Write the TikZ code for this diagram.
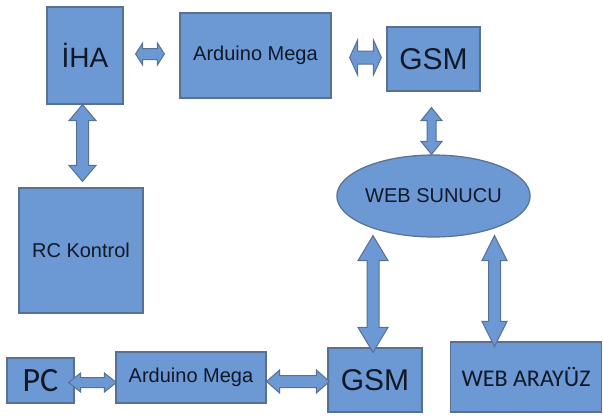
\documentclass[tikz,border=0pt]{standalone}
\usepackage{fontspec}
\setmainfont{Liberation Sans}
\newfontfamily\calib{Carlito}
\usetikzlibrary{calc,shapes.geometric}
\definecolor{boxfill}{RGB}{108,153,212}
\definecolor{boxline}{RGB}{88,112,145}
\definecolor{txt}{RGB}{16,24,40}
\newcommand\fs[1]{\fontsize{#1}{#1}\selectfont}
% horizontal double block arrow: from, to, half shaft, half head, head length
\newcommand\hbarrow[5]{%
  \draw[barrow] let \p1=(#1), \p2=(#2) in
  (\x1,\y2) -- ({\x1+#5},{\y2+#4}) -- ({\x1+#5},{\y2+#3}) -- ({\x2-#5},{\y2+#3})
  -- ({\x2-#5},{\y2+#4}) -- (\x2,\y2) -- ({\x2-#5},{\y2-#4}) -- ({\x2-#5},{\y2-#3})
  -- ({\x1+#5},{\y2-#3}) -- ({\x1+#5},{\y2-#4}) -- cycle;}
% vertical double block arrow: top, bottom, half shaft, half head, head length
\newcommand\vbarrow[5]{%
  \draw[barrow] let \p1=(#1), \p2=(#2) in
  (\x2,\y1) -- ({\x2+#4},{\y1-#5}) -- ({\x2+#3},{\y1-#5}) -- ({\x2+#3},{\y2+#5})
  -- ({\x2+#4},{\y2+#5}) -- (\x2,\y2) -- ({\x2-#4},{\y2+#5}) -- ({\x2-#3},{\y2+#5})
  -- ({\x2-#3},{\y1-#5}) -- ({\x2-#4},{\y1-#5}) -- cycle;}
\begin{document}
\begin{tikzpicture}[x=1pt,y=-1pt,
  box/.style={draw=boxline, fill=boxfill, line width=1.2pt, text=txt, inner sep=0pt, rectangle},
  oval/.style={draw=boxline, fill=boxfill, line width=1.2pt, text=txt, inner sep=0pt, ellipse},
  barrow/.style={draw=boxline, fill=boxfill, line width=1pt, line join=miter}]
\useasboundingbox (0,0) rectangle (603,416);
\node[box, minimum width=76pt, minimum height=97pt] (iha) at (85,55.5) {\fs{28}İHA};
\node[box, minimum width=151pt, minimum height=85pt] (ard1) at (255.5,55.5) {\fs{20}Arduino Mega};
\node[box, minimum width=93pt, minimum height=64pt] (gsm1) at (433.5,59) {\fs{30}GSM};
\node[oval, minimum width=161pt, minimum height=82pt] (sunucu) at (433.5,196) {\fs{20}WEB SUNUCU};
\node[box, minimum width=124pt, minimum height=125pt] (rc) at (81,250.5) {\fs{20}RC Kontrol};
\node[box, minimum width=67pt, minimum height=45pt] (pc) at (40.5,380.5) {\calib\fs{34}PC};
\node[box, minimum width=150pt, minimum height=51pt] (ard2) at (191,377.5) {\raisebox{-1.5pt}{\fs{20}Arduino Mega}};
\node[box, minimum width=94pt, minimum height=64pt] (gsm2) at (375,380) {\fs{30}GSM};
\node[box, minimum width=151pt, minimum height=70pt] (web) at (526,377) {\raisebox{-3.5pt}{\calib\fs{24}WEB ARAYÜZ}};
\hbarrow{[xshift=12pt]iha.east}{[xshift=-15pt,yshift=1.5pt]ard1.west}{5.5pt}{11pt}{7pt}
\hbarrow{[xshift=18pt]ard1.east}{[xshift=-5pt,yshift=1.5pt]gsm1.west}{6.5pt}{17.5pt}{8pt}
\vbarrow{[yshift=-16pt]gsm1.south}{[xshift=-2pt]sunucu.north}{4.5pt}{10.5pt}{13pt}
\vbarrow{iha.south}{[xshift=1.5pt,yshift=6pt]rc.north}{6pt}{13.5pt}{16pt}
\vbarrow{[yshift=2pt]sunucu.south}{[xshift=-2pt,yshift=-5pt]gsm2.north}{6pt}{15pt}{25pt}
\vbarrow{[yshift=2pt]sunucu.south}{[xshift=-31.5pt,yshift=-5pt]web.north}{6pt}{12.5pt}{25pt}
\hbarrow{[xshift=-6pt]pc.east}{[xshift=1pt,yshift=-5pt]ard2.west}{5pt}{9.5pt}{12pt}
\hbarrow{ard2.east}{[xshift=2pt,yshift=-1.5pt]gsm2.west}{6pt}{11.5pt}{13pt}
\end{tikzpicture}
\end{document}
